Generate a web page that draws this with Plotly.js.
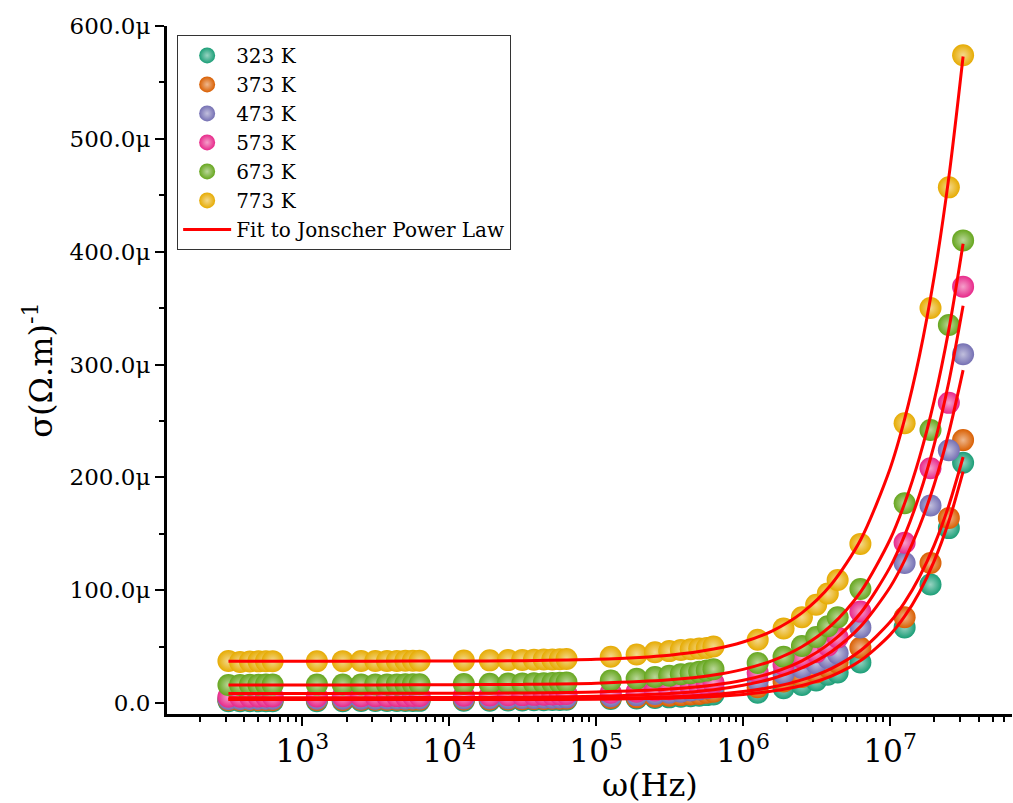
<!DOCTYPE html>
<html>
<head>
<meta charset="utf-8">
<script src="https://cdn.plot.ly/plotly-3.0.1.min.js"></script>
<style>html,body{margin:0;padding:0;background:#fff;}#chart{width:1013px;height:803px;}</style>
</head>
<body>
<div id="chart"></div>
<script>
// angular frequency ω (Hz) of measured points
const omega = [314.16, 376.99, 439.82, 502.65, 565.49, 628.32,
  1256.6, 1885.0, 2513.3, 3141.6, 3769.9, 4398.2, 5026.5, 5654.9, 6283.2,
  12566, 18850, 25133, 31416, 37699, 43982, 50265, 56549, 62832,
  125664, 188496, 251327, 314159, 376991, 439823, 502655, 565487, 628319,
  1256637, 1884956, 2513274, 3141593, 3769911, 4398230, 6283185,
  12566371, 18849556, 25132741, 31415927];

// conductivity in μ(Ω.m)^-1
const sigma323 = [1.5,1.5,1.5,1.5,1.6,1.6, 1.6,1.6,1.7,1.7,1.7,1.8,1.8,1.8,1.9,
  2.0,2.1,2.2,2.3,2.4,2.5,2.6,2.7,2.8, 3.5,4,4.5,5,5.5,6,6.5,7,7.5,
  9,13,16,20,25,27,36, 67,105,155,213];
const sigma373 = [2.6,2.6,2.6,2.6,2.7,2.7, 2.7,2.7,2.8,2.8,2.8,2.9,2.9,2.9,3.0,
  3.1,3.2,3.3,3.4,3.5,3.6,3.7,3.8,3.9, 4.5,5,5.5,6.5,7,7.5,8,9,10,
  14,19,23,27,32,36,49, 76,124,164,233];
const sigma473 = [3.6,3.6,3.6,3.7,3.7,3.7, 3.7,3.8,3.8,3.8,3.9,3.9,3.9,4.0,4.0,
  4.1,4.2,4.3,4.4,4.5,4.6,4.7,4.8,5.0, 6,7,8,9,10,11,12,13,14,
  20,26,31,35,40,44,67, 124,175,224,309];
const sigma573 = [5.5,5.6,5.6,5.7,5.7,5.8, 5.8,5.9,5.9,6.0,6.0,6.1,6.1,6.2,6.2,
  6.4,6.6,6.8,7.0,7.2,7.4,7.6,7.8,8.0, 9,10,11,12,13,14,15,16.5,18,
  27,34,40,45,51,58,81, 142,208,266,369];
const sigma673 = [16.0,16.0,16.2,16.2,16.3,16.3, 16.3,16.4,16.4,16.5,16.5,16.5,16.6,16.6,16.7,
  16.8,17.0,17.2,17.3,17.5,17.6,17.8,18.0,18.2, 20,21.5,23,24.2,25.4,26.3,27.6,28.7,30,
  35.5,41,50.5,58.5,68,76,101, 177,242,335,410];
const sigma773 = [37.2,36.4,36.8,36.9,37.0,37.1, 37.0,37.1,37.2,37.2,37.3,37.3,37.4,37.4,37.5,
  37.6,37.8,38.0,38.2,38.3,38.5,38.6,38.8,39.0, 41,43,45,46,47,47.6,48.2,48.8,50,
  56,66,76,87,97,109,141, 248,350,457,574];

// Jonscher power-law fit curves at sample frequencies
const fitOmega = [314.16, 1000, 3162, 10000, 31623, 100000, 316228, 630957, 1000000,
  1584893, 2511886, 3981072, 6309573, 10000000, 12589254, 15848932, 19952623, 25118864, 31415927];
const fit323 = [3.0,3.0,3.0,3.03,3.1,3.36,4.28,5.75,7.56,10.57,15.55,23.83,37.6,60.4,76.9,98.2,125.7,161,205];
const fit373 = [3.3,3.3,3.3,3.37,3.5,3.98,5.46,7.6,10.1,14.1,20.5,30.5,46.5,71.7,89.4,111.7,139.7,175.1,218];
const fit473 = [4.7,4.7,4.75,4.84,5.1,5.93,8.38,11.8,15.7,21.7,31.1,45.5,67.9,102.6,126.6,156.4,193.4,239.6,295];
const fit573 = [8.5,8.5,8.55,8.63,8.9,9.73,12.3,16.0,20.2,26.9,37.4,53.9,79.8,120.4,148.8,184.3,228.8,284.5,352];
const fit673 = [16.0,16.0,16.05,16.16,16.5,17.5,20.5,24.8,29.8,37.6,49.8,68.7,98.4,144.9,177.2,217.5,267.8,330.9,407];
const fit773 = [37.0,37.0,37.05,37.2,37.5,38.7,42.4,47.8,54.1,64.0,79.9,105.0,144.7,207.7,252.0,307.6,377.5,465.8,573];

const names = ['323 K','373 K','473 K','573 K','673 K','773 K'];
const colors = ['#1b9e77','#d95f02','#7570b3','#e7298a','#66a61e','#e6ab02'];
const yTickVals = [0,100,200,300,400,500,600];
const yTickText = ['0.0','100.0μ','200.0μ','300.0μ','400.0μ','500.0μ','600.0μ'];

const series = [sigma323, sigma373, sigma473, sigma573, sigma673, sigma773];
const fits = [fit323, fit373, fit473, fit573, fit673, fit773];

function tint(hex, f) {
  const n = parseInt(hex.slice(1), 16);
  const r = (n >> 16) & 255, g = (n >> 8) & 255, b = n & 255;
  const m = c => Math.round(c + (255 - c) * f);
  return 'rgb(' + m(r) + ',' + m(g) + ',' + m(b) + ')';
}

const traces = [];
series.forEach((s, i) => {
  traces.push({
    x: omega, y: s, type: 'scatter', mode: 'markers', name: names[i],
    marker: {size: 22, color: colors[i], line: {width: 0},
      gradient: {type: 'radial', color: tint(colors[i], 0.55)}},
    cliponaxis: false
  });
});
fits.forEach((f, i) => {
  traces.push({
    x: fitOmega, y: f, type: 'scatter', mode: 'lines',
    name: 'Fit to Jonscher Power Law', showlegend: i === 0,
    line: {color: '#ff0000', width: 3, shape: 'spline', smoothing: 0.8}
  });
});

const font = 'DejaVu Serif, Liberation Serif, serif';
const layout = {
  width: 1013, height: 803,
  margin: {l: 167, r: 1, t: 26, b: 89},
  paper_bgcolor: '#fff', plot_bgcolor: '#fff',
  showlegend: true,
  font: {family: font, color: '#000'},
  xaxis: {
    type: 'log', range: [2.079, 7.83],
    showgrid: false, zeroline: false,
    showline: true, linecolor: '#000', linewidth: 3,
    ticks: 'outside', ticklen: 9, tickwidth: 2, tickcolor: '#000',
    dtick: 1, exponentformat: 'power', tickfont: {size: 25, family: font},
    minor: {ticks: 'outside', ticklen: 5, tickwidth: 2, tickcolor: '#000', dtick: 'D1', showgrid: false}
  },
  yaxis: {
    range: [-9.75, 600],
    showgrid: false, zeroline: false,
    showline: true, linecolor: '#000', linewidth: 3,
    ticks: 'outside', ticklen: 9, tickwidth: 2, tickcolor: '#000',
    tickvals: yTickVals, ticktext: yTickText, tickfont: {size: 23, family: font},
    minor: {ticks: 'outside', ticklen: 5, tickwidth: 2, tickcolor: '#000', dtick: 50, tick0: 0, showgrid: false},
    title: {text: 'σ(Ω.m)<sup>-1</sup>', font: {size: 32, family: font}, standoff: 8}
  },
  annotations: [{
    text: 'ω(Hz)', xref: 'paper', yref: 'paper', x: 0.5716, y: -0.103,
    xanchor: 'center', yanchor: 'middle', showarrow: false,
    font: {size: 32, family: font}
  }],
  legend: {
    x: 0.012, y: 0.987, xanchor: 'left', yanchor: 'top',
    bgcolor: '#fff', bordercolor: '#333', borderwidth: 1,
    font: {size: 20, family: font}, itemsizing: 'trace', itemwidth: 48
  }
};

Plotly.newPlot('chart', traces, layout, {displayModeBar: false, staticPlot: true});
</script>
</body>
</html>
